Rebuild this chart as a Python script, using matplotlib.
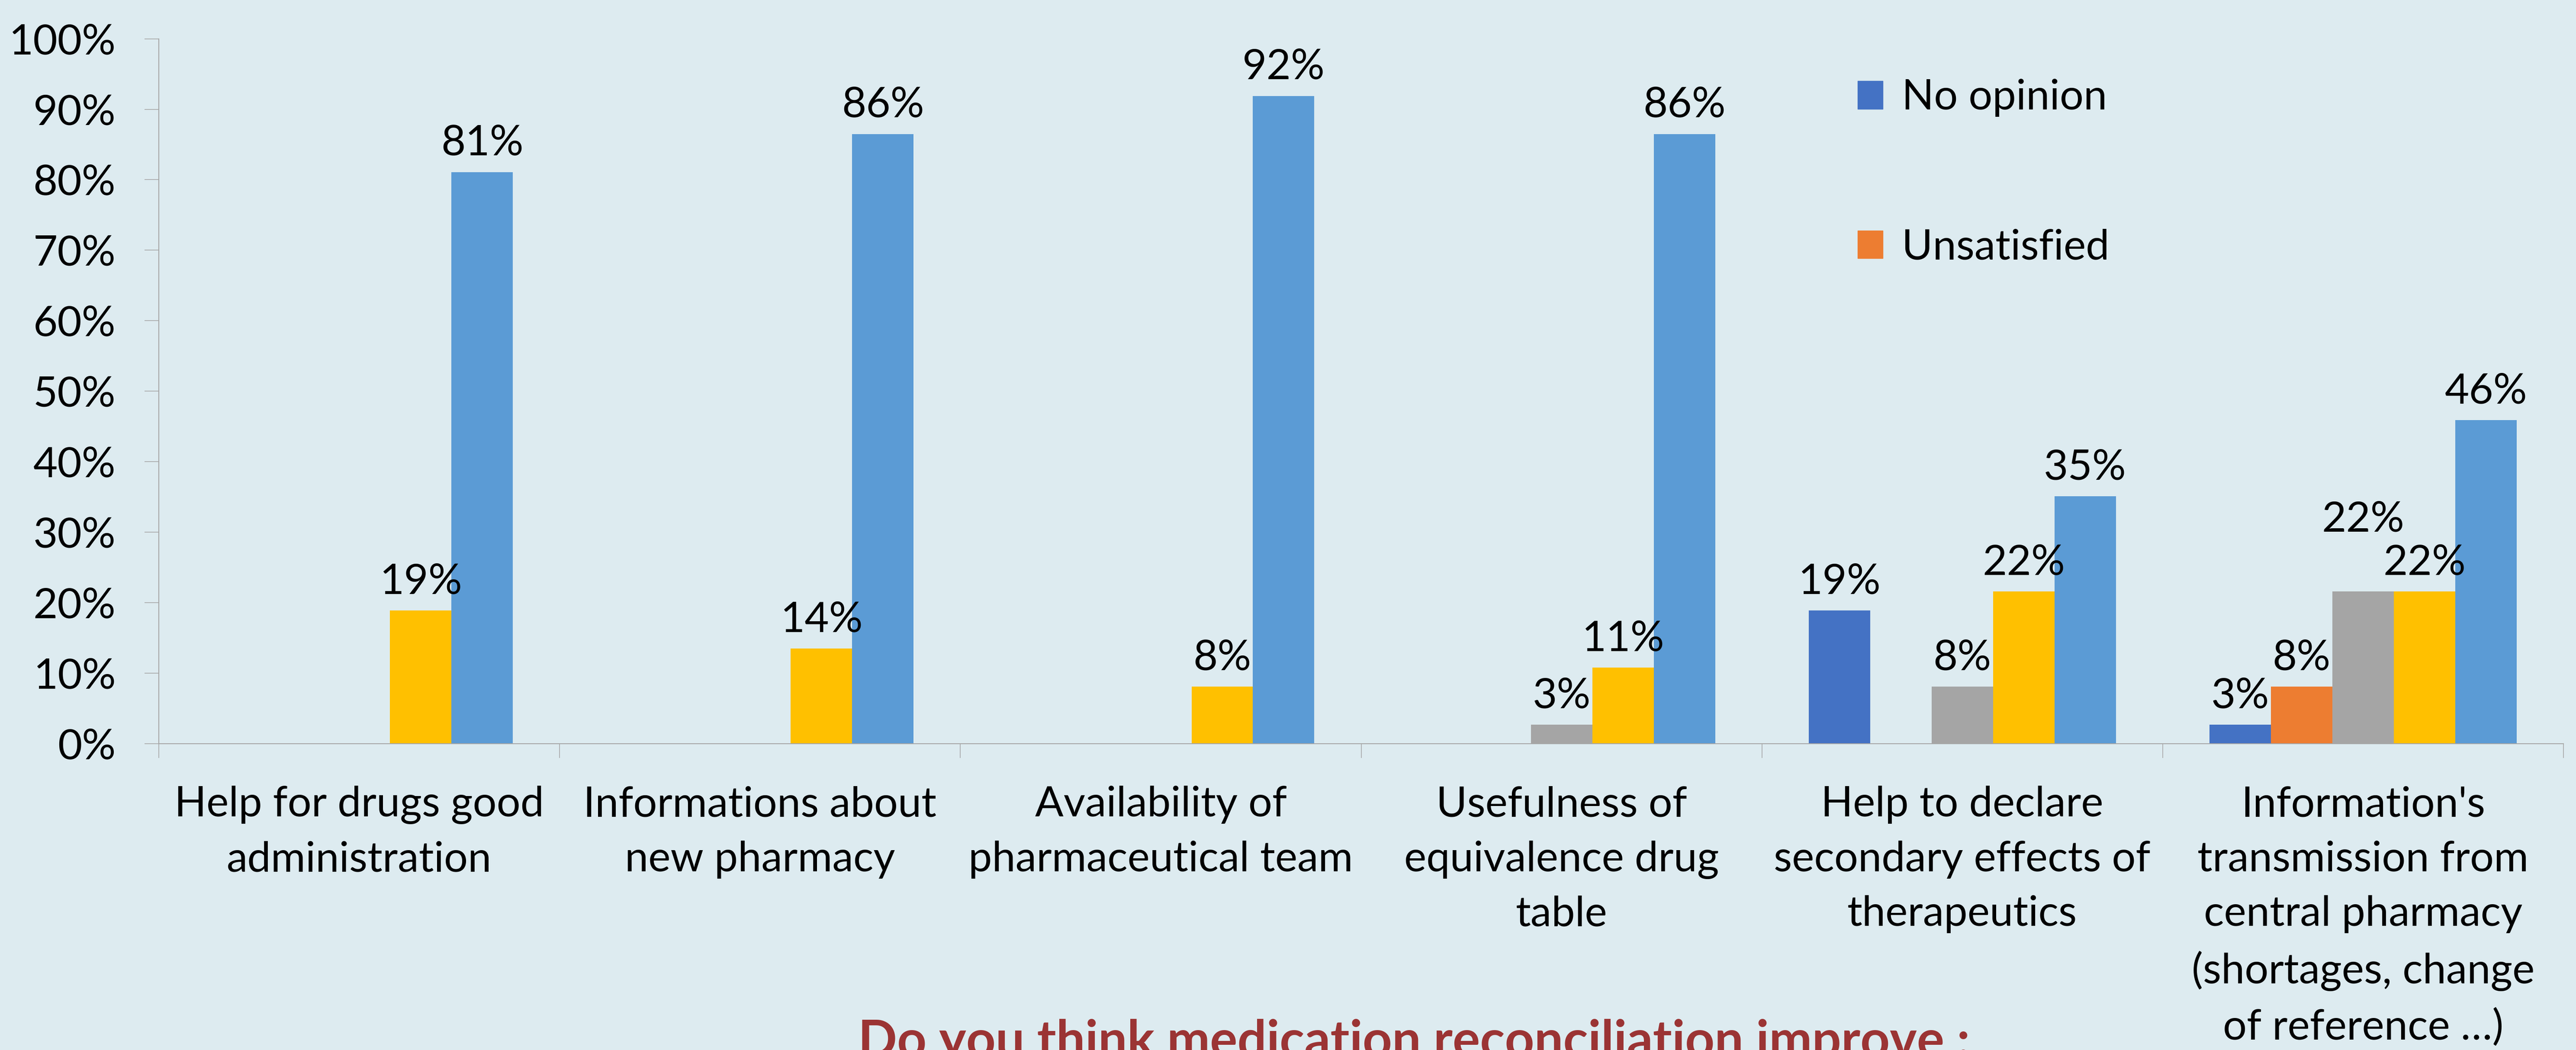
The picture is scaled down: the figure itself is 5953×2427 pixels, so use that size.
#!/usr/bin/env python3
"""Grouped bar chart: perceived improvements from medication reconciliation."""

import matplotlib

matplotlib.use("Agg")

import matplotlib.pyplot as plt
from matplotlib.patches import Patch
import numpy as np

# Data (percent of respondents)
categories = [
    "Help for drugs good\nadministration",
    "Informations about\nnew pharmacy",
    "Availability of\npharmaceutical team",
    "Usefulness of\nequivalence drug\ntable",
    "Help to declare\nsecondary effects of\ntherapeutics",
    "Information's\ntransmission from\ncentral pharmacy\n(shortages, change\nof reference \u2026)",
]
no_opinion = [0, 0, 0, 0, 18.9, 2.7]
unsatisfied = [0, 0, 0, 0, 0, 8.1]
series_3 = [0, 0, 0, 2.7, 8.1, 21.6]       # grey, legend entry not visible
series_4 = [18.9, 13.5, 8.1, 10.8, 21.6, 21.6]   # yellow, legend entry not visible
series_5 = [81.1, 86.5, 91.9, 86.5, 35.1, 45.9]  # light blue, legend entry not visible
y_ticks = list(range(0, 101, 10))
title = "Do you think medication reconciliation improve :"

series = [no_opinion, unsatisfied, series_3, series_4, series_5]
colors = ["#4472C4", "#ED7D31", "#A5A5A5", "#FFC000", "#5B9BD5"]
bg = "#DDEBF0"
axis_col = "#A6A6A6"
FS = 70

plt.rcParams["font.family"] = ["Lato", "DejaVu Sans"]

fig = plt.figure(figsize=(59.53, 24.27), dpi=100, facecolor=bg)
ax = fig.add_axes([0.0617, 0.2917, 0.9334, 0.6714], facecolor=bg)

x = np.arange(len(categories))
width = 0.1533
# extra lift (points) for labels Excel moved to avoid overlap
label_nudge = {(5, 2): 72}

for i, (vals, col) in enumerate(zip(series, colors)):
    pos = x + (i - 2) * width
    bars = ax.bar(pos, vals, width=width, color=col, linewidth=0, zorder=2)
    for j, (b, v) in enumerate(zip(bars, vals)):
        if v <= 0:
            continue
        ax.annotate(f"{v:.0f}%", (b.get_x() + b.get_width() / 2, v),
                    xytext=(0, 28 + label_nudge.get((j, i), 0)),
                    textcoords="offset points", ha="center", va="baseline",
                    fontsize=FS, color="black")

ax.set_xlim(-0.5, len(categories) - 0.5)
ax.set_ylim(0, 100)
ax.set_yticks(y_ticks)
ax.set_yticklabels([f"{t}%" for t in y_ticks])
ax.set_xticks(x)
ax.set_xticklabels(categories, linespacing=1.54)
ax.set_xticks(np.arange(-0.5, len(categories)), minor=True)

ax.tick_params(axis="y", length=24, width=1.2, color=axis_col, pad=48,
               labelsize=FS)
ax.tick_params(axis="x", which="major", length=0, pad=70, labelsize=FS)
ax.tick_params(axis="x", which="minor", length=24, width=1.2, color=axis_col)

for s in ["top", "right"]:
    ax.spines[s].set_visible(False)
for s in ["left", "bottom"]:
    ax.spines[s].set_color(axis_col)
    ax.spines[s].set_linewidth(1.5)

handles = [Patch(color=colors[0]), Patch(color=colors[1])]
fig.legend(handles, ["No opinion", "Unsatisfied"], loc="upper left",
           bbox_to_anchor=(4205 / 5953, 1 - 95 / 2427), frameon=False,
           fontsize=FS, handlelength=0.6, handleheight=0.65,
           handletextpad=0.45, labelspacing=2.65)

fig.text(3268 / 5953, -16 / 2427, title, ha="center", va="baseline",
         fontsize=FS * 1.22, fontweight="bold", color="#9B3434")

fig.savefig("out.png", dpi=100, facecolor=bg)
plt.close(fig)
